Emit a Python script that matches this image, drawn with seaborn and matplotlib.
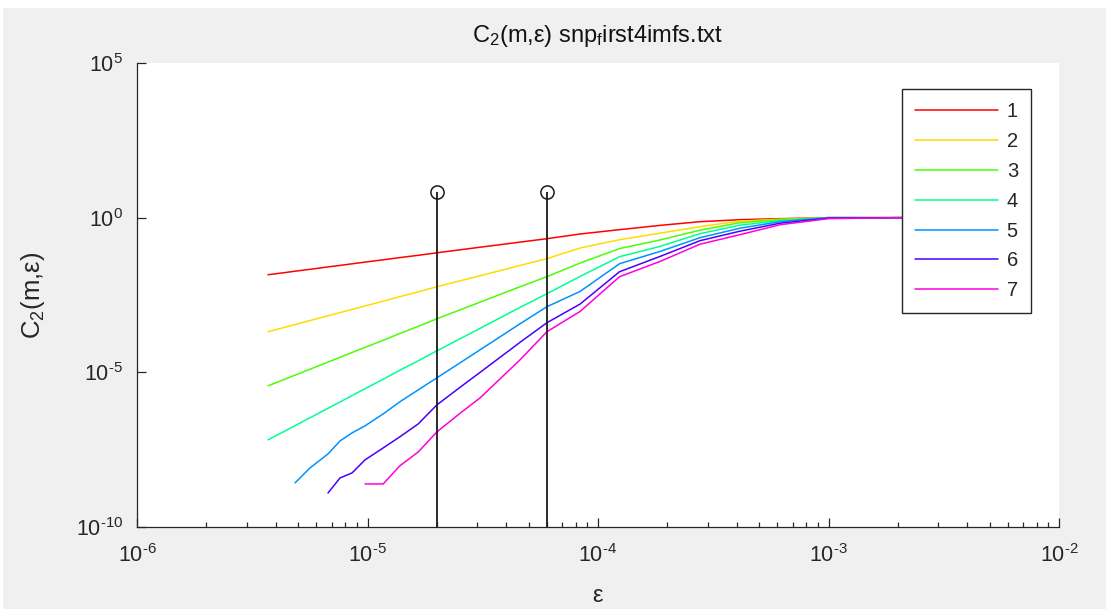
import numpy as np
import pandas as pd
import matplotlib
matplotlib.use("Agg")
import matplotlib.pyplot as plt
import seaborn as sns
from matplotlib.ticker import LogLocator, NullLocator, NullFormatter, FuncFormatter
from matplotlib.patches import Rectangle

# Radius grid (epsilon) shared by all embedding dimensions
eps = [3.70e-6, 4.30e-6, 4.85e-6, 5.63e-6, 6.74e-6, 7.60e-6, 8.57e-6, 9.75e-6,
       1.17e-5, 1.38e-5, 1.66e-5, 2.00e-5, 2.52e-5, 3.08e-5, 3.76e-5, 4.59e-5,
       6.00e-5, 8.36e-5, 1.24e-4, 1.86e-4, 2.77e-4, 4.13e-4, 6.17e-4, 1.00e-3,
       2.00e-3, 5.00e-3]

nan = np.nan
# log10 of the correlation sum C2(m, eps) for m = 1..7 (nan: empty count)
log_c2_m1 = [-1.845, -1.783, -1.731, -1.670, -1.592, -1.543, -1.492, -1.437,
             -1.362, -1.291, -1.217, -1.136, -1.039, -0.955, -0.874, -0.790,
             -0.680, -0.528, -0.388, -0.249, -0.130, -0.065, -0.032, 0.0, 0.0, 0.0]
log_c2_m2 = [-3.689, -3.560, -3.456, -3.327, -3.172, -3.068, -2.968, -2.854,
             -2.699, -2.554, -2.398, -2.233, -2.042, -1.877, -1.712, -1.544,
             -1.327, -0.981, -0.712, -0.500, -0.291, -0.113, -0.049, 0.0, 0.0, 0.0]
log_c2_m3 = [-5.437, -5.246, -5.091, -4.900, -4.667, -4.515, -4.359, -4.194,
             -3.964, -3.744, -3.515, -3.269, -2.981, -2.731, -2.482, -2.233,
             -1.909, -1.466, -1.000, -0.720, -0.405, -0.162, -0.065, 0.0, 0.0, 0.0]
log_c2_m4 = [-7.184, -6.929, -6.725, -6.469, -6.162, -5.958, -5.751, -5.531,
             -5.223, -4.932, -4.628, -4.304, -3.916, -3.576, -3.239, -2.900,
             -2.460, -1.900, -1.262, -0.928, -0.518, -0.243, -0.097, 0.0, 0.0, 0.0]
log_c2_m5 = [nan, nan, -8.576, -8.091, -7.638, -7.217, -6.958, -6.731,
             -6.343, -5.955, -5.566, -5.178, -4.693, -4.272, -3.851, -3.430,
             -2.880, -2.385, -1.489, -1.091, -0.647, -0.340, -0.129, 0.0, 0.0, 0.0]
log_c2_m6 = [nan, nan, nan, nan, -8.900, -8.414, -8.252, -7.832,
             -7.443, -7.087, -6.667, -6.052, -5.485, -5.000, -4.515, -4.029,
             -3.398, -2.793, -1.748, -1.252, -0.744, -0.437, -0.178, -0.016, 0.0, 0.0]
log_c2_m7 = [nan, nan, nan, nan, nan, nan, nan, -8.608,
             -8.608, -8.026, -7.573, -6.926, -6.324, -5.825, -5.210, -4.595,
             -3.689, -3.032, -1.909, -1.414, -0.858, -0.550, -0.227, -0.032, 0.0, 0.0]

dims = ["1", "2", "3", "4", "5", "6", "7"]
series = [log_c2_m1, log_c2_m2, log_c2_m3, log_c2_m4, log_c2_m5, log_c2_m6, log_c2_m7]

# Scaling-region markers
stem_eps = [2.0e-5, 6.0e-5]
stem_height = [7.0, 7.0]

# hsv(7) line colours
colors = ["#ff0000", "#ffdb00", "#49ff00", "#00ff92", "#0092ff", "#4900ff", "#ff00db"]

rows = []
for m, vals in zip(dims, series):
    for e, v in zip(eps, vals):
        if not np.isnan(v):
            rows.append({"eps": e, "C2": 10.0 ** v, "m": m})
df = pd.DataFrame(rows)

sns.set_theme(style="white")
plt.rcParams["font.family"] = ["Liberation Sans", "DejaVu Sans"]
plt.rcParams["mathtext.fontset"] = "custom"
plt.rcParams["mathtext.rm"] = "Liberation Sans"
plt.rcParams["mathtext.it"] = "Liberation Sans:italic"
plt.rcParams["mathtext.default"] = "regular"

W, H = 1106, 609
fig = plt.figure(figsize=(W / 100, H / 100), dpi=100, facecolor="white")
# grey window panel with a thin white border on top and left
fig.patches.append(Rectangle((3 / W, 0), 1 - 3 / W, 1 - 8 / H,
                             transform=fig.transFigure, facecolor="#f0f0f0",
                             edgecolor="none", zorder=-10))
ax = fig.add_axes([137 / W, 1 - 527 / H, 922 / W, 464 / H])
ax.set_facecolor("white")

sns.lineplot(data=df, x="eps", y="C2", hue="m", hue_order=dims, palette=colors,
             estimator=None, sort=True, linewidth=1.1, ax=ax, legend="full")

markerline, stemlines, baseline = ax.stem(stem_eps, stem_height, linefmt="k-",
                                          markerfmt="ko", basefmt=" ", bottom=1e-10)
markerline.set_markerfacecolor("none")
markerline.set_markersize(9.5)
markerline.set_markeredgewidth(1.1)
stemlines.set_linewidth(1.3)


def pow10_label(v, pos):
    e = int(round(np.log10(v)))
    exp = r"\text{-}%d" % abs(e) if e < 0 else "%d" % e
    return r"$10^{%s}$" % exp


ax.set_xscale("log")
ax.set_yscale("log")
ax.set_xlim(1e-6, 1e-2)
ax.set_ylim(1e-10, 1e5)
ax.set_yticks([1e-10, 1e-5, 1e0, 1e5])
ax.yaxis.set_minor_locator(NullLocator())
ax.xaxis.set_major_locator(LogLocator(base=10, numticks=10))
ax.xaxis.set_minor_locator(LogLocator(base=10, subs=np.arange(2, 10), numticks=40))
ax.xaxis.set_minor_formatter(NullFormatter())
ax.xaxis.set_major_formatter(FuncFormatter(pow10_label))
ax.yaxis.set_major_formatter(FuncFormatter(pow10_label))

sns.despine(ax=ax)
for s in ("left", "bottom"):
    ax.spines[s].set_color("#262626")
    ax.spines[s].set_linewidth(0.9)

ax.tick_params(which="both", direction="in", colors="#262626", labelsize=15.5,
               bottom=True, left=True, top=False, right=False, width=0.9)
ax.tick_params(which="major", length=6.5)
ax.tick_params(which="minor", length=3.6)
ax.tick_params(axis="x", pad=12)
ax.tick_params(axis="y", pad=10)

ax.set_title(r"C$_2$(m,$\epsilon$) snp$_f$irst4imfs.txt", fontsize=17,
             color="#111111", pad=15)
ax.set_xlabel(r"$\epsilon$", fontsize=17, color="#262626")
ax.set_ylabel(r"C$_2$(m,$\epsilon$)", fontsize=18.5, color="#262626")
ax.xaxis.set_label_coords(0.5, -0.125)
ax.yaxis.set_label_coords(-0.098, 0.5)

handles, labels = ax.get_legend_handles_labels()
leg = ax.legend(handles, labels, loc="upper left",
                bbox_to_anchor=(902 / W, 1 - 89 / H),
                bbox_transform=fig.transFigure, borderaxespad=0,
                fontsize=14.5, frameon=True, fancybox=False, shadow=False,
                handlelength=4.1, handletextpad=0.45, labelspacing=0.54,
                borderpad=0.65)
leg.get_frame().set_edgecolor("#262626")
leg.get_frame().set_linewidth(1.0)
leg.get_frame().set_facecolor("white")
leg.get_frame().set_alpha(1.0)
leg.set_zorder(10)

fig.savefig("out.png", dpi=100, facecolor=fig.get_facecolor())
